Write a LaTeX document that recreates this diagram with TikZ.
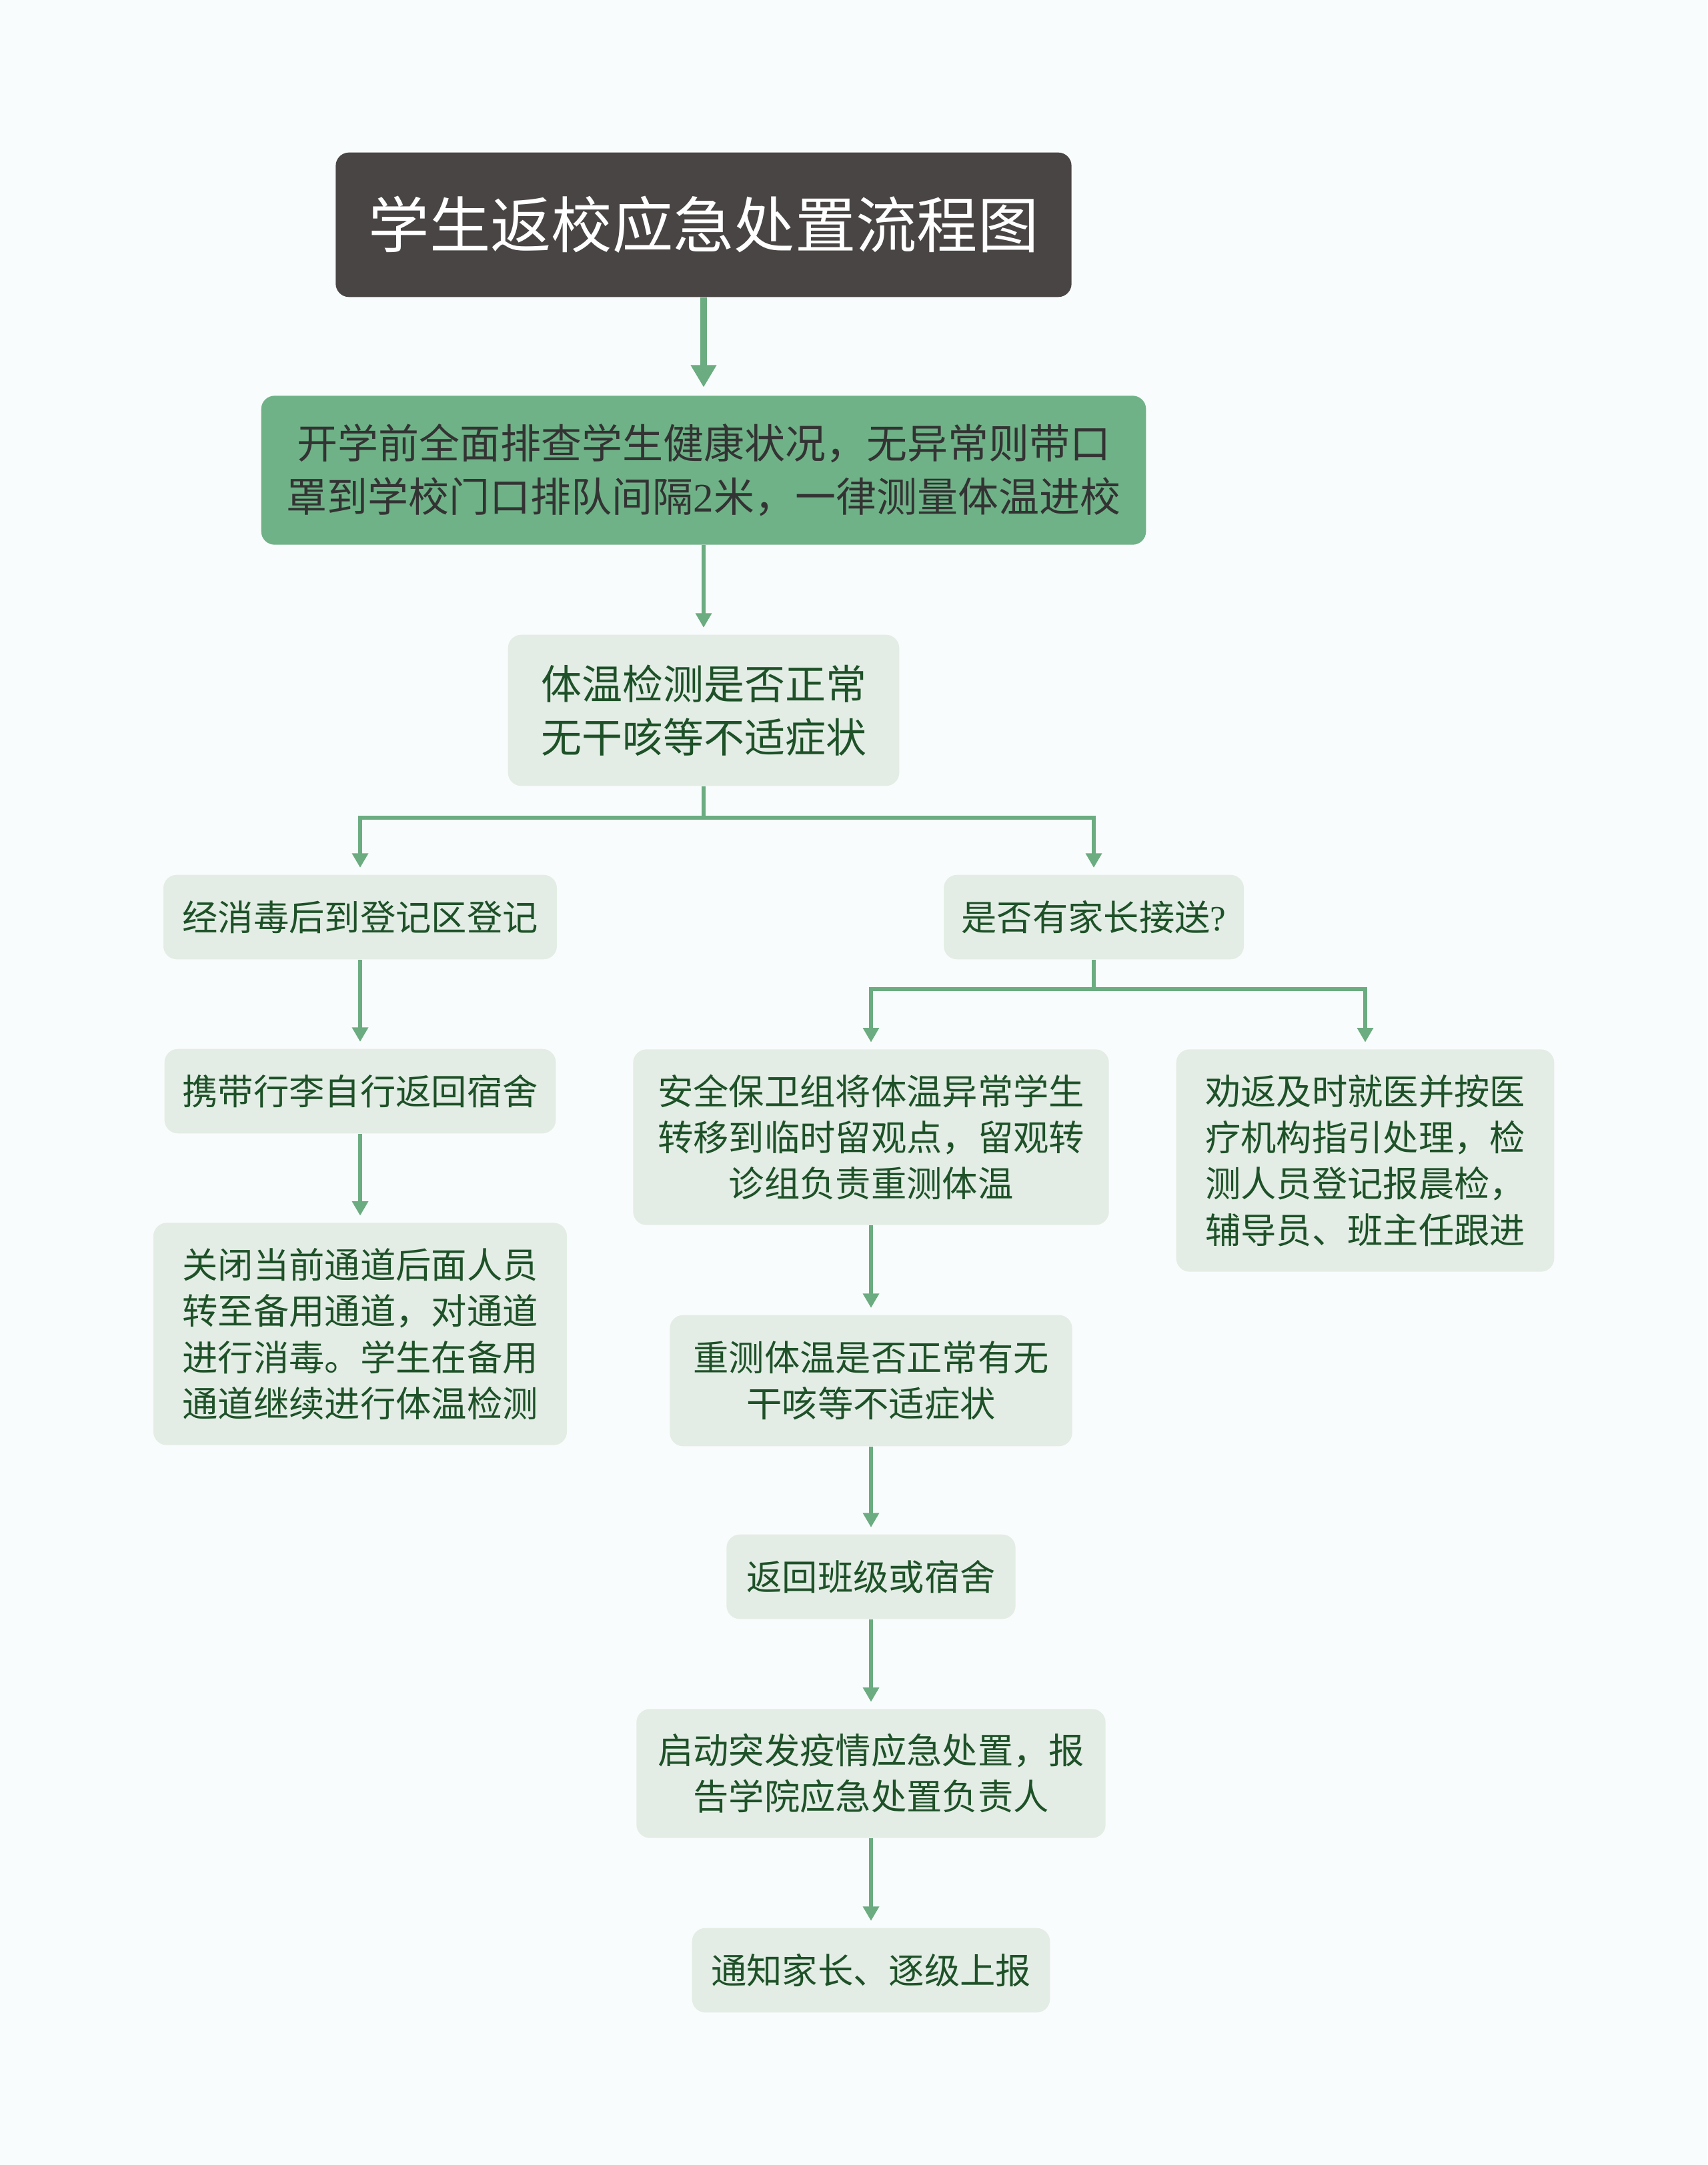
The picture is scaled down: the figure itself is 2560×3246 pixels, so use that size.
\documentclass[tikz,border=0pt]{standalone}
\usepackage{fontspec}
\newfontfamily\cjk{Noto Sans CJK SC}
\newfontfamily\lat{Liberation Serif}
\usetikzlibrary{arrows.meta}
\definecolor{bgcol}{HTML}{F9FCFC}
\definecolor{titlecol}{HTML}{4A4545}
\definecolor{maingreen}{HTML}{6FB287}
\definecolor{linecol}{HTML}{6BAC80}
\definecolor{boxcol}{HTML}{E3EDE5}
\definecolor{textgreen}{HTML}{1E5128}
\tikzset{
  titlebox/.style = {fill=titlecol, rounded corners=6pt, text=white, inner sep=0pt,
    font=\cjk\fontsize{27.4}{33}\selectfont, align=center},
  startbox/.style = {fill=maingreen, rounded corners=6pt, text=black!80, inner sep=0pt,
    font=\cjk\fontsize{18.3}{24}\selectfont, align=center},
  bigbox/.style = {fill=boxcol, rounded corners=6pt, text=textgreen, inner sep=0pt,
    font=\cjk\fontsize{18.3}{24}\selectfont, align=center},
  stepbox/.style = {fill=boxcol, rounded corners=6pt, text=textgreen, inner sep=0pt,
    font=\cjk\fontsize{16}{20.8}\selectfont, align=center},
  link/.style = {draw=linecol, line width=1.8pt},
  arr/.style = {link, -{Triangle[width=7pt,length=6.5pt]}, shorten >=3pt},
  bigarr/.style = {draw=linecol, line width=3pt, -{Triangle[width=11pt,length=10pt]}, shorten >=3.6pt}
}
\begin{document}
\begin{tikzpicture}[x=0.3pt,y=-0.3pt]
\fill[bgcol] (0,0) rectangle (2560,3246);
\useasboundingbox (0,0) rectangle (2560,3246);
% title and first check
\node[titlebox, minimum width=331pt, minimum height=65pt] (title) at (1055,337) {学生返校应急处置流程图};
\node[startbox, minimum width=398pt, minimum height=67pt] (start) at (1055,705)
  {开学前全面排查学生健康状况，无异常则带口\\罩到学校门口排队间隔{\lat 2}米，一律测量体温进校};
\node[bigbox, minimum width=176pt, minimum height=68pt] (check) at (1055,1065)
  {体温检测是否正常\\无干咳等不适症状};
% left branch
\node[stepbox, minimum width=177pt, minimum height=38pt] (disinf) at (540,1375) {经消毒后到登记区登记};
\node[stepbox, minimum width=176pt, minimum height=38pt] (luggage) at (540,1636) {携带行李自行返回宿舍};
\node[stepbox, minimum width=186pt, minimum height=100pt] (close) at (540,2000)
  {关闭当前通道后面人员\\转至备用通道，对通道\\进行消毒。学生在备用\\通道继续进行体温检测};
% right branch
\node[stepbox, minimum width=135pt, minimum height=38pt] (parent) at (1640,1375) {是否有家长接送{\lat ?}};
\node[stepbox, minimum width=214pt, minimum height=79pt] (transfer) at (1306,1705)
  {安全保卫组将体温异常学生\\转移到临时留观点，留观转\\诊组负责重测体温};
\node[stepbox, minimum width=170pt, minimum height=100pt] (advise) at (2047,1740)
  {劝返及时就医并按医\\疗机构指引处理，检\\测人员登记报晨检，\\辅导员、班主任跟进};
\node[stepbox, minimum width=181pt, minimum height=59pt] (retest) at (1306,2070)
  {重测体温是否正常有无\\干咳等不适症状};
\node[stepbox, minimum width=130pt, minimum height=38pt] (back) at (1306,2364) {返回班级或宿舍};
\node[stepbox, minimum width=211pt, minimum height=58pt] (emerg) at (1306,2659)
  {启动突发疫情应急处置，报\\告学院应急处置负责人};
\node[stepbox, minimum width=161pt, minimum height=38pt] (notify) at (1306,2954) {通知家长、逐级上报};
% junctions
\coordinate (split1) at (1055,1226);
\coordinate (split2) at (1640,1483);
% connectors
\draw[bigarr] (title) -- (start);
\draw[arr] (start) -- (check);
\draw[link] (check) -- (split1);
\draw[arr] (split1) -| (disinf);
\draw[arr] (split1) -| (parent);
\draw[arr] (disinf) -- (luggage);
\draw[arr] (luggage) -- (close);
\draw[link] (parent) -- (split2);
\draw[arr] (split2) -| (transfer);
\draw[arr] (split2) -| (advise);
\draw[arr] (transfer) -- (retest);
\draw[arr] (retest) -- (back);
\draw[arr] (back) -- (emerg);
\draw[arr] (emerg) -- (notify);
\end{tikzpicture}
\end{document}
